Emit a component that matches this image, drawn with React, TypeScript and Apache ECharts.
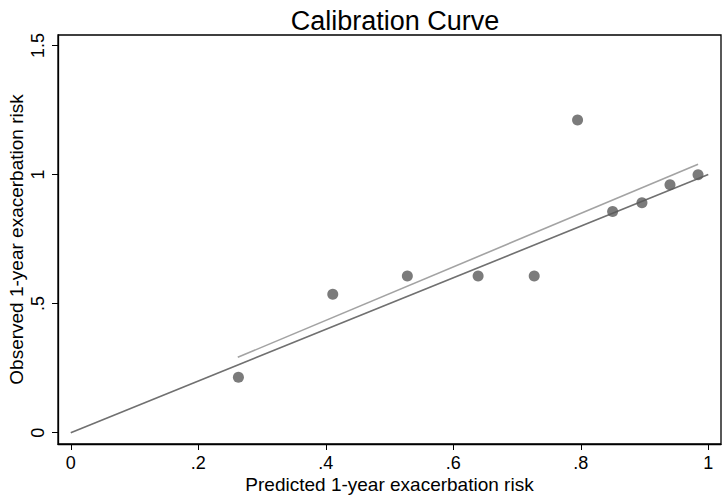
import React, { useEffect, useRef } from "react";
import * as echarts from "echarts";

const predicted = [0.263, 0.411, 0.528, 0.639, 0.727, 0.795, 0.85, 0.896, 0.94, 0.984];
const observed = [0.215, 0.536, 0.607, 0.607, 0.607, 1.212, 0.857, 0.891, 0.961, 0.999];
const fitLineX = [0.262, 0.984];
const fitLineY = [0.292, 1.04];
const diagX = [0, 1];
const diagY = [0, 1];
const xTicks = [0, 0.2, 0.4, 0.6, 0.8, 1];
const yTicks = [0, 0.5, 1, 1.5];

const fmt = (v: number) => {
  const r = Math.round(v * 100) / 100;
  if (r === 0) return "0";
  const s = String(r);
  return s.startsWith("0.") ? s.slice(1) : s;
};

const FONT = "Liberation Sans";

export default function App() {
  const ref = useRef<HTMLDivElement>(null);
  useEffect(() => {
    document.body.style.margin = "0";
    const chart = echarts.init(ref.current!, undefined, { renderer: "svg" });
    chart.setOption({
      animation: false,
      backgroundColor: "#ffffff",
      title: {
        text: "Calibration Curve",
        left: 390,
        textAlign: "center",
        top: 2,
        textStyle: { fontFamily: FONT, fontSize: 27, fontWeight: "normal", color: "#000" },
      },
      grid: {
        left: 58,
        right: 5,
        top: 35,
        bottom: 55,
        containLabel: false,
        outerBoundsMode: "none",
        show: true,
        borderColor: "#000",
        borderWidth: 1.3,
      },
      xAxis: {
        type: "value",
        min: -0.02,
        max: 1.02,
        name: "Predicted 1-year exacerbation risk",
        nameLocation: "middle",
        nameGap: 31,
        nameMoveOverlap: false,
        nameTextStyle: { fontFamily: FONT, fontSize: 19, color: "#000" },
        axisLine: { show: true, onZero: false, lineStyle: { color: "#000", width: 1.3 } },
        axisTick: { show: true, customValues: xTicks, length: 6, lineStyle: { color: "#000" } },
        axisLabel: {
          customValues: xTicks,
          formatter: (v: number) => fmt(v),
          fontFamily: FONT,
          fontSize: 18,
          color: "#000",
          margin: 10,
        },
        splitLine: { show: false },
      },
      yAxis: {
        type: "value",
        min: -0.044,
        max: 1.541,
        name: "Observed 1-year exacerbation risk",
        nameLocation: "middle",
        nameGap: 32,
        nameMoveOverlap: false,
        nameRotate: 90,
        nameTextStyle: { fontFamily: FONT, fontSize: 19, color: "#000" },
        axisLine: { show: true, onZero: false, lineStyle: { color: "#000", width: 1.3 } },
        axisTick: { show: true, customValues: yTicks, length: 6, lineStyle: { color: "#000" } },
        axisLabel: {
          customValues: yTicks,
          formatter: (v: number) => fmt(v),
          rotate: 90,
          fontFamily: FONT,
          fontSize: 18,
          color: "#000",
          margin: 11,
        },
        splitLine: { show: false },
      },
      series: [
        {
          type: "line",
          data: diagX.map((x, i) => [x, diagY[i]]),
          showSymbol: false,
          symbol: "none",
          lineStyle: { color: "#707070", width: 1.6 },
          z: 2,
        },
        {
          type: "line",
          data: fitLineX.map((x, i) => [x, fitLineY[i]]),
          showSymbol: false,
          symbol: "none",
          lineStyle: { color: "#a3a3a3", width: 1.6 },
          z: 2,
        },
        {
          type: "scatter",
          data: predicted.map((x, i) => [x, observed[i]]),
          symbol: "circle",
          symbolSize: 11,
          itemStyle: { color: "#5a5a5a" },
          z: 3,
        },
      ],
    });
    return () => chart.dispose();
  }, []);
  return <div ref={ref} style={{ width: 726, height: 499 }} />;
}
